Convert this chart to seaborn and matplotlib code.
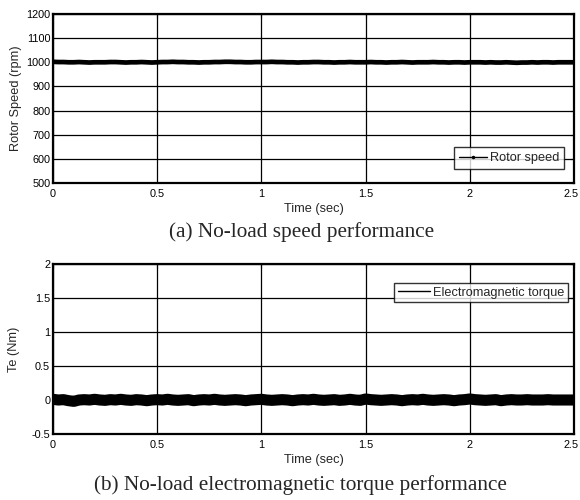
import numpy as np
import pandas as pd
import matplotlib
matplotlib.use("Agg")
import matplotlib.pyplot as plt
import matplotlib.transforms as mtransforms
import seaborn as sns

# Simulation time base (s)
time_s = [round(0.025 * i, 3) for i in range(101)]

# Rotor speed at no load (rpm), read every 25 ms
rotor_speed = [1002, 1001, 1001, 1000, 1000, 1001, 1000, 999, 1000, 1000,
               1000, 1001, 1001, 1000, 999, 1000, 1000, 1001, 1000, 999,
               1000, 1001, 1001, 1002, 1001, 1001, 1000, 1000, 999, 1000,
               1000, 1001, 1001, 1002, 1002, 1001, 1001, 1000, 1000, 1001,
               1001, 1001, 1002, 1001, 1001, 1000, 1000, 999, 1000, 1000,
               1001, 1001, 1000, 1000, 999, 1000, 1000, 1001, 1000, 1000,
               1000, 1001, 1000, 1000, 999, 1000, 1000, 1001, 1000, 999,
               1000, 1000, 1000, 1001, 1000, 1000, 999, 1000, 1000, 999,
               1000, 1000, 1000, 999, 1000, 999, 999, 1000, 999, 998,
               999, 999, 1000, 999, 1000, 1000, 999, 1000, 1000, 1000, 1000]

# Electromagnetic torque at no load (Nm), read every 25 ms
torque = [0.01, 0.0, 0.005, -0.01, -0.02, 0.0, 0.005, 0.0, 0.01, 0.0,
          -0.005, 0.005, 0.0, 0.01, 0.0, -0.005, 0.005, 0.0, -0.01, 0.0,
          0.005, 0.0, 0.01, 0.0, -0.005, 0.0, 0.005, -0.01, 0.0, 0.005,
          0.0, 0.01, 0.0, -0.005, 0.0, 0.005, 0.0, -0.01, 0.0, 0.005,
          0.01, 0.0, -0.005, 0.0, 0.005, 0.0, -0.01, 0.0, 0.005, 0.0,
          0.01, 0.0, -0.005, 0.0, 0.005, -0.005, 0.0, 0.01, 0.0, -0.005,
          0.015, 0.005, 0.0, -0.005, 0.0, 0.005, 0.0, -0.01, 0.0, 0.005,
          0.0, 0.01, 0.0, -0.005, 0.0, 0.005, 0.0, -0.01, 0.0, 0.005,
          0.015, 0.005, 0.0, -0.005, 0.0, 0.005, -0.01, 0.0, 0.005, 0.0,
          0.0, 0.005, 0.0, 0.0, 0.0, 0.005, 0.0, 0.0, 0.0, 0.0, 0.0]

speed_ticks = [500, 600, 700, 800, 900, 1000, 1100, 1200]
torque_ticks = [-0.5, 0, 0.5, 1, 1.5, 2]
time_ticks = [0, 0.5, 1, 1.5, 2, 2.5]

sns.set_style("white")
plt.rcParams["font.family"] = ["Liberation Sans", "DejaVu Sans"]

df_speed = pd.DataFrame({"t": time_s, "speed": rotor_speed})
df_te = pd.DataFrame({"t": time_s, "te": torque})

fig = plt.figure(figsize=(5.8, 5.0), dpi=100)
ax1 = fig.add_axes([53 / 580, 1 - 183 / 500, 521 / 580, 169 / 500])
ax2 = fig.add_axes([53 / 580, 1 - 434 / 500, 521 / 580, 170 / 500])

LABEL_FS = 9.2
TICK_FS = 7.8


def style_axes(ax, yticks, ylim):
    ax.set_xlim(0, 2.5)
    ax.set_ylim(*ylim)
    ax.set_xticks(time_ticks)
    ax.set_xticklabels([f"{v:g}" for v in time_ticks])
    ax.set_yticks(yticks)
    ax.set_yticklabels([f"{v:g}" for v in yticks])
    ax.grid(True, color="black", linewidth=0.9)
    ax.set_axisbelow(True)
    ax.tick_params(direction="in", length=3, width=0.8, labelsize=TICK_FS,
                   pad=2, colors="black", top=True, right=True)
    ax.tick_params(axis="x", pad=4)
    for s in ax.spines.values():
        s.set_color("black")
        s.set_linewidth(1.6)
    ax.set_xlabel("Time (sec)", fontsize=LABEL_FS, labelpad=3)
    # keep the last time label inside the canvas
    last = ax.get_xticklabels()[-1]
    last.set_transform(last.get_transform() + mtransforms.ScaledTranslation(
        -3 / 100, 0, fig.dpi_scale_trans))


sns.lineplot(data=df_speed, x="t", y="speed", ax=ax1, color="black",
             linewidth=3.4, label="Rotor speed")
style_axes(ax1, speed_ticks, (500, 1200))
ax1.set_ylabel("Rotor Speed (rpm)", fontsize=LABEL_FS, labelpad=3)
h1 = [plt.Line2D([], [], color="black", linewidth=1.0, marker=".",
                 markersize=3)]
leg1 = ax1.legend(h1, ["Rotor speed"], loc="lower right", fontsize=LABEL_FS,
                  frameon=True, fancybox=False, edgecolor="black",
                  handlelength=2.2, handletextpad=0.2, borderpad=0.4,
                  borderaxespad=0.0, bbox_to_anchor=(0.981, 0.08))
leg1.get_frame().set_linewidth(1.0)

sns.lineplot(data=df_te, x="t", y="te", ax=ax2, color="black",
             linewidth=8.0, label="Electromagnetic torque")
style_axes(ax2, torque_ticks, (-0.5, 2))
ax2.set_ylabel("Te (Nm)", fontsize=LABEL_FS, labelpad=8)
h2 = [plt.Line2D([], [], color="black", linewidth=1.0)]
leg2 = ax2.legend(h2, ["Electromagnetic torque"], loc="upper right",
                  fontsize=LABEL_FS, frameon=True, fancybox=False,
                  edgecolor="black", handlelength=2.5, handletextpad=0.2,
                  borderpad=0.3, borderaxespad=0.0,
                  bbox_to_anchor=(0.988, 0.89))
leg2.get_frame().set_linewidth(1.0)

serif = ["Liberation Serif", "DejaVu Serif"]
fig.text(302 / 580, 1 - 232 / 500, "(a) No-load speed performance",
         ha="center", va="center", fontsize=15.3, family=serif)
fig.text(300 / 580, 1 - 485 / 500,
         "(b) No-load electromagnetic torque performance",
         ha="center", va="center", fontsize=15.3, family=serif)

fig.savefig("out.png", dpi=100)
